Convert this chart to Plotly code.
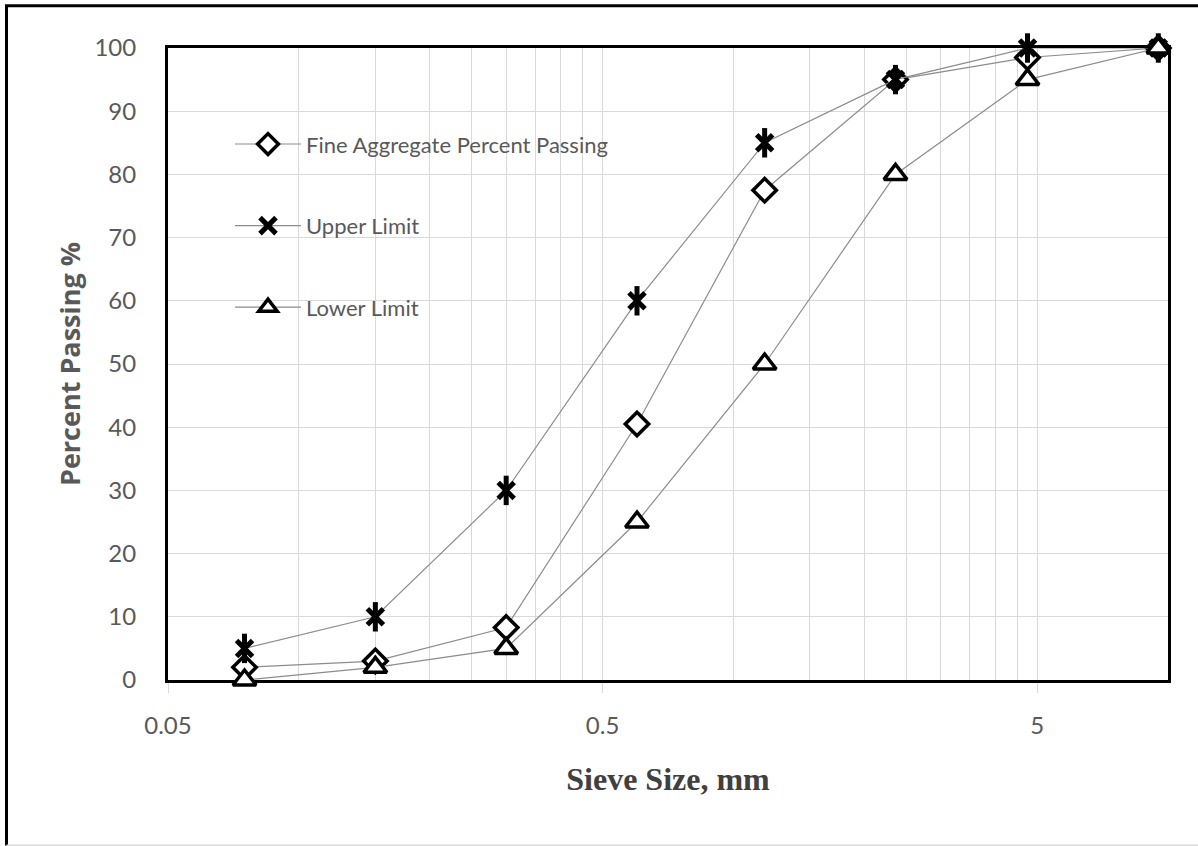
import plotly.graph_objects as go

# Sieve sizes (mm) and percent passing for each grading curve
sieve_mm = [0.075, 0.15, 0.3, 0.6, 1.18, 2.36, 4.75, 9.5]
fine_passing = [2, 3, 8.3, 40.5, 77.5, 95, 98.5, 100]
upper_limit = [5, 10, 30, 60, 85, 95, 100, 100]
lower_limit = [0, 2, 5, 25, 50, 80, 95, 100]

# Axis ticks
x_major = [0.05, 0.5, 5]
x_major_text = ["0.05", "0.5", "5"]
x_minor = [m * base for base in (0.05, 0.5) for m in range(2, 10)]
y_ticks = list(range(0, 101, 10))

LINE_GREY = "#8c8c8c"
TEXT_GREY = "#595959"
GRID = "#d9d9d9"

fig = go.Figure()

fig.add_trace(go.Scatter(
    x=sieve_mm, y=fine_passing, mode="lines+markers",
    name="Fine Aggregate Percent Passing", legendgroup="a",
    line=dict(color=LINE_GREY, width=1.2),
    marker=dict(symbol="diamond", size=18, color="white",
                line=dict(color="black", width=3.5)),
    cliponaxis=False,
))

fig.add_trace(go.Scatter(
    x=sieve_mm, y=upper_limit, mode="lines+markers",
    name="Upper Limit", legendgroup="b",
    line=dict(color=LINE_GREY, width=1.2),
    marker=dict(symbol="x-thin", size=16, color="black",
                line=dict(color="black", width=5)),
    cliponaxis=False,
))
# vertical stroke that completes the star marker
fig.add_trace(go.Scatter(
    x=sieve_mm, y=upper_limit, mode="markers",
    showlegend=False, legendgroup="b", hoverinfo="skip",
    marker=dict(symbol="line-ns", size=21, color="black",
                line=dict(color="black", width=5)),
    cliponaxis=False,
))

fig.add_trace(go.Scatter(
    x=sieve_mm, y=lower_limit, mode="lines+markers",
    name="Lower Limit", legendgroup="c",
    line=dict(color=LINE_GREY, width=1.2),
    marker=dict(symbol="triangle-up", size=20, color="white",
                line=dict(color="black", width=3.5)),
    cliponaxis=False,
))

fig.update_layout(
    width=1198, height=846,
    margin=dict(l=168, r=30, t=48, b=166),
    paper_bgcolor="white", plot_bgcolor="white",
    showlegend=True,
    legend=dict(
        x=0.062, y=0.881, xanchor="left", yanchor="top",
        bgcolor="rgba(0,0,0,0)",
        font=dict(family="Lato", size=22, color=TEXT_GREY),
        tracegroupgap=50, itemwidth=66,
    ),
    xaxis=dict(
        type="log", range=[-1.30103, 1.0],
        tickmode="array", tickvals=x_major, ticktext=x_major_text,
        ticks="outside", ticklen=10, tickcolor=GRID, tickwidth=1,
        showgrid=True, gridcolor=GRID, gridwidth=1,
        minor=dict(tickmode="array", tickvals=x_minor, showgrid=True,
                   gridcolor=GRID, gridwidth=1, ticks=""),
        showline=True, linecolor="black", linewidth=3, mirror=True,
        layer="below traces",
        tickfont=dict(family="Lato", size=24, color=TEXT_GREY),
        ticklabelstandoff=12,
        title=dict(text="<b>Sieve Size, mm</b>", standoff=30,
                   font=dict(family="Liberation Serif", size=32, color="#404040")),
        zeroline=False,
    ),
    yaxis=dict(
        range=[0, 100], tickvals=y_ticks,
        showgrid=True, gridcolor=GRID, gridwidth=1,
        showline=True, linecolor="black", linewidth=3, mirror=True,
        layer="below traces", ticks="",
        tickfont=dict(family="Lato", size=24, color=TEXT_GREY),
        ticklabelstandoff=24,
        title=dict(text="<b>Percent Passing %</b>", standoff=6,
                   font=dict(family="Open Sans", size=27, color=TEXT_GREY)),
        zeroline=False,
    ),
    shapes=[
        dict(type="line", xref="paper", yref="paper", x0=-0.1615, x1=-0.1615,
             y0=-0.262, y1=1.067, line=dict(color="black", width=3)),
        dict(type="line", xref="paper", yref="paper", x0=-0.163, x1=1.04,
             y0=1.067, y1=1.067, line=dict(color="black", width=3)),
        dict(type="line", xref="paper", yref="paper", x0=-0.1615, x1=1.04,
             y0=-0.262, y1=-0.262, line=dict(color=GRID, width=2)),
    ],
)

fig.write_html("out.html")
